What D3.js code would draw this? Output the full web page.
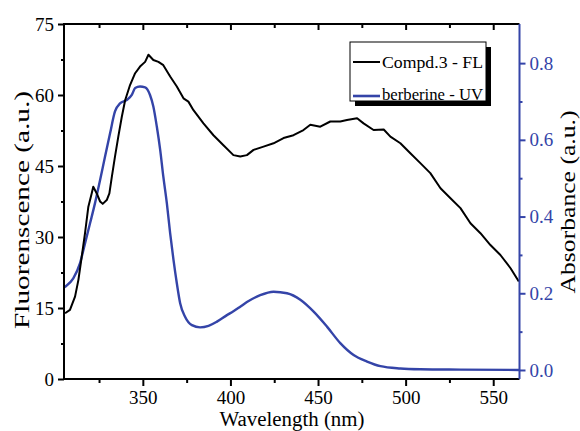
<!DOCTYPE html>
<html>
<head>
<meta charset="utf-8">
<script src="https://cdn.jsdelivr.net/npm/d3@7"></script>
<style>
  body { margin: 0; background: #fff; }
  svg { display: block; font-family: "Liberation Serif", "Times New Roman", serif; }
</style>
</head>
<body>
<div id="chart"></div>
<script>

// fluorescence of compd.3 (left axis)
var flWave = [305.6, 308.4, 311.3, 313.2, 315.1, 317, 318.9, 320.8, 321.7, 323.7, 325.6, 327.1, 329.4, 330.9,
  332.3, 334.1, 336, 338, 339.9, 342.7, 345.6, 348.4, 351.3, 353.2, 356, 358.9, 361.7, 365.6, 369.4,
  373.2, 376, 378.9, 384.6, 390.3, 396, 401.7, 405.6, 409.4, 413.2, 418.9, 424.6, 430.3, 436, 441.7,
  445.6, 451.3, 457, 462.7, 466.5, 472.3, 476, 481.7, 487.5, 491.3, 497, 502.7, 508.4, 514.1, 519.9,
  525.6, 531.3, 537, 542.7, 548.4, 554.1, 559.9, 564.6];
var flValue = [13.9, 14.6, 17.4, 20.9, 25.8, 30.8, 36.4, 39.2, 40.6, 39.2, 37.5, 37.0, 37.8, 39.2,
  42.7, 47.0, 51.2, 55.4, 58.9, 62.1, 64.6, 66.0, 67.0, 68.5, 67.4, 67.0, 66.3, 63.9, 61.8,
  59.3, 58.6, 56.8, 54.0, 51.5, 49.4, 47.3, 47.0, 47.3, 48.4, 49.1, 49.8, 50.9, 51.5, 52.6,
  53.7, 53.3, 54.4, 54.4, 54.7, 55.1, 54.0, 52.6, 52.7, 51.2, 49.8, 47.7, 45.6, 43.5, 40.3,
  38.2, 36.1, 32.9, 30.8, 28.3, 26.2, 23.4, 20.6];

// absorbance of berberine (right axis)
var uvWave = [304, 305.6, 310.3, 314.1, 317, 319.9, 322.7, 325.6, 328.4, 331.3, 334.1, 337, 340.8, 343.7,
  345.6, 348.4, 351.3, 354.1, 356, 358, 359.9, 361.7, 363.7, 365.6, 367.5, 369.4, 371.3, 374.1,
  378, 382.7, 387.5, 392.3, 398, 401.7, 405.6, 409.4, 417, 424.6, 432.3, 439.9, 447.5, 455.1, 462.7,
  470.3, 478, 485.6, 497, 508.4, 531.3, 565];
var uvValue = [0.212, 0.217, 0.239, 0.278, 0.330, 0.383, 0.435, 0.495, 0.556, 0.617, 0.674, 0.695, 0.704, 0.717,
  0.735, 0.739, 0.737, 0.717, 0.687, 0.634, 0.574, 0.504, 0.435, 0.356, 0.287, 0.226, 0.174, 0.139,
  0.117, 0.111, 0.115, 0.126, 0.143, 0.153, 0.165, 0.177, 0.195, 0.204, 0.200, 0.183, 0.152, 0.113, 0.070,
  0.039, 0.022, 0.010, 0.004, 0.002, 0.001, 0.0];

var xTicks = [350, 400, 450, 500, 550];
var leftTicks = [0, 15, 30, 45, 60, 75];
var rightTicks = [0.0, 0.2, 0.4, 0.6, 0.8];
var legendLabels = ["Compd.3 - FL", "berberine - UV"];

var width = 580, height = 431;
var plotL = 64, plotR = 519.5, plotT = 24, plotB = 379;
var blue = "#3444a8";

var x = d3.scaleLinear().domain([305, 565]).range([plotL, plotR]);
var yL = d3.scaleLinear().domain([0, 75]).range([plotB, plotT]);
var yR = d3.scaleLinear().domain([-0.0235, 0.902]).range([plotB, plotT]);

var svg = d3.select("#chart").append("svg")
    .attr("width", width)
    .attr("height", height);

svg.append("defs").append("clipPath")
    .attr("id", "plot-clip")
  .append("rect")
    .attr("x", plotL).attr("y", plotT)
    .attr("width", plotR - plotL).attr("height", plotB - plotT);

var plot = svg.append("g").attr("clip-path", "url(#plot-clip)");

var fl = flWave.map(function(w, i) { return [w, flValue[i]]; });
var uv = uvWave.map(function(w, i) { return [w, uvValue[i]]; });

plot.append("path")
    .datum(uv)
    .attr("fill", "none")
    .attr("stroke", blue)
    .attr("stroke-width", 2.4)
    .attr("d", d3.line()
      .x(function(d) { return x(d[0]); })
      .y(function(d) { return yR(d[1]); })
      .curve(d3.curveMonotoneX));

plot.append("path")
    .datum(fl)
    .attr("fill", "none")
    .attr("stroke", "#000")
    .attr("stroke-width", 2)
    .attr("stroke-linejoin", "round")
    .attr("d", d3.line()
      .x(function(d) { return x(d[0]); })
      .y(function(d) { return yL(d[1]); }));

// axes
var minorX = d3.range(325, 565, 50);

svg.append("g")
    .attr("transform", "translate(0," + plotB + ")")
    .call(d3.axisBottom(x).tickValues(xTicks).tickSize(7).tickPadding(5));
svg.append("g")
    .attr("transform", "translate(0," + plotB + ")")
    .call(d3.axisBottom(x).tickValues(minorX).tickSize(4).tickFormat(""));

svg.append("g")
    .attr("transform", "translate(0," + plotT + ")")
    .call(d3.axisBottom(x).tickValues(minorX).tickSize(4).tickFormat(""));
svg.append("g")
    .attr("transform", "translate(0," + plotT + ")")
    .call(d3.axisBottom(x).tickValues(xTicks).tickSize(6).tickFormat(""));

svg.append("g")
    .attr("transform", "translate(" + plotL + ",0)")
    .call(d3.axisLeft(yL).tickValues(leftTicks).tickSize(6).tickPadding(4));
svg.append("g")
    .attr("transform", "translate(" + plotL + ",0)")
    .call(d3.axisLeft(yL).tickValues(d3.range(7.5, 75, 15)).tickSize(3).tickFormat(""));

svg.append("g")
    .attr("class", "right")
    .attr("transform", "translate(" + plotR + ",0)")
    .call(d3.axisRight(yR).tickValues(rightTicks).tickSize(6).tickPadding(4).tickFormat(d3.format(".1f")));
svg.append("g")
    .attr("class", "right")
    .attr("transform", "translate(" + plotR + ",0)")
    .call(d3.axisRight(yR).tickValues([0.1, 0.3, 0.5, 0.7]).tickSize(3).tickFormat(""));

svg.selectAll(".domain").remove();
svg.selectAll(".tick line").attr("stroke-width", 2);
svg.selectAll(".tick text")
    .attr("font-family", "Liberation Serif, serif")
    .attr("font-size", 19);
svg.selectAll(".right .tick line").attr("stroke", blue);
svg.selectAll(".right .tick text").attr("fill", blue);

// frame
svg.append("path")
    .attr("fill", "none")
    .attr("stroke", "#000")
    .attr("stroke-width", 2)
    .attr("d", "M" + plotR + "," + plotT + "H" + plotL + "V" + plotB + "H" + plotR);
svg.append("line")
    .attr("x1", plotR).attr("x2", plotR)
    .attr("y1", plotT).attr("y2", plotB)
    .attr("stroke", blue)
    .attr("stroke-width", 2);

// titles
svg.append("text")
    .attr("x", 292).attr("y", 426)
    .attr("text-anchor", "middle")
    .attr("font-size", 20)
    .attr("textLength", 145)
    .attr("lengthAdjust", "spacingAndGlyphs")
    .text("Wavelength (nm)");

svg.append("text")
    .attr("transform", "translate(29,210) rotate(-90)")
    .attr("text-anchor", "middle")
    .attr("font-size", 21)
    .attr("textLength", 238)
    .attr("lengthAdjust", "spacingAndGlyphs")
    .text("Fluorenscence (a.u.)");

svg.append("text")
    .attr("transform", "translate(574.5,202) rotate(-90)")
    .attr("text-anchor", "middle")
    .attr("font-size", 21)
    .attr("textLength", 183)
    .attr("lengthAdjust", "spacingAndGlyphs")
    .text("Absorbance (a.u.)");

// legend
var legend = svg.append("g");
legend.append("rect")
    .attr("x", 355).attr("y", 47)
    .attr("width", 136).attr("height", 59)
    .attr("fill", "#000");
legend.append("rect")
    .attr("x", 350).attr("y", 42)
    .attr("width", 136).attr("height", 59)
    .attr("fill", "#fff")
    .attr("stroke", "#000")
    .attr("stroke-width", 1);

var entry = legend.selectAll(".entry")
    .data(legendLabels)
  .enter().append("g")
    .attr("class", "entry")
    .attr("transform", function(d, i) { return "translate(0," + (i * 32) + ")"; });

entry.append("line")
    .attr("x1", 353).attr("x2", 380)
    .attr("y1", function(d, i) { return i ? 64 : 62; })
    .attr("y2", function(d, i) { return i ? 64 : 62; })
    .attr("stroke", function(d, i) { return i ? blue : "#000"; })
    .attr("stroke-width", function(d, i) { return i ? 2.6 : 2; });

entry.append("text")
    .attr("x", 382).attr("y", 68)
    .attr("font-size", 17)
    .attr("textLength", 101)
    .attr("lengthAdjust", "spacingAndGlyphs")
    .text(function(d) { return d; });

</script>
</body>
</html>
